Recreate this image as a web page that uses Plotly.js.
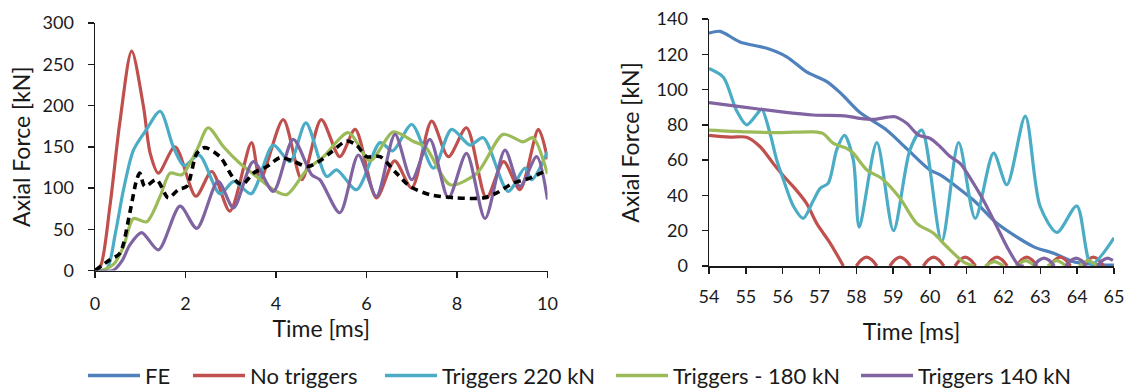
<!DOCTYPE html>
<html>
<head>
<meta charset="utf-8">
<script src="https://cdn.plot.ly/plotly-3.0.1.min.js"></script>
<style>html,body{margin:0;padding:0;background:#fff;}#chart{width:1129px;height:391px;}</style>
</head>
<body>
<div id="chart"></div>
<script>
// ---------- Left panel (0-10 ms) ----------
const tNoTrig = [0, 0.12, 0.33, 0.55, 0.81, 1.07, 1.22, 1.40, 1.77, 2.23, 2.58, 2.98, 3.46, 3.65, 4.16, 4.57, 5.0, 5.41, 5.75, 6.22, 6.62, 7.0, 7.44, 7.81, 8.21, 8.65, 9.03, 9.39, 9.8, 10.0];
const yNoTrig = [0, 5, 78, 180, 266, 199, 142, 118, 150, 90, 120, 72, 155, 110, 183, 110, 183, 138, 171, 88, 133, 100, 181, 138, 173, 88, 132, 98, 171, 135];

const t220 = [0, 0.26, 0.45, 0.63, 0.85, 1.14, 1.44, 1.73, 1.97, 2.3, 2.76, 3.07, 3.45, 3.94, 4.31, 4.66, 5.12, 5.34, 5.78, 6.3, 6.58, 7.0, 7.48, 7.88, 8.29, 8.58, 9.13, 9.5, 9.65, 10.0];
const y220 = [0, 2, 45, 98, 146, 171, 193, 150, 127, 140, 93, 108, 93, 152, 132, 179, 114, 122, 98, 155, 145, 177, 124, 171, 152, 161, 96, 124, 110, 144];

const t180 = [0, 0.2, 0.42, 0.63, 0.85, 1.14, 1.44, 1.66, 1.92, 2.25, 2.5, 2.84, 3.2, 3.57, 3.94, 4.24, 4.68, 5.05, 5.6, 6.08, 6.59, 7.05, 7.3, 7.85, 8.44, 9.02, 9.46, 9.68, 10.0];
const y180 = [0, 1, 8, 29, 63, 59, 90, 118, 116, 146, 173, 150, 130, 114, 98, 92, 122, 138, 167, 133, 168, 156, 150, 104, 118, 165, 156, 161, 117];

const t140 = [0, 0.4, 0.6, 0.77, 1.03, 1.40, 1.88, 2.25, 2.72, 3.06, 3.5, 3.94, 4.38, 4.79, 4.97, 5.41, 5.82, 6.22, 6.63, 7.0, 7.4, 7.81, 8.21, 8.62, 9.06, 9.39, 9.76, 10.0];
const y140 = [0, 0, 12, 31, 46, 25, 78, 51, 108, 76, 132, 96, 159, 116, 110, 70, 140, 90, 165, 110, 159, 88, 142, 63, 146, 102, 138, 86];

const tRef = [0, 0.33, 0.55, 0.77, 0.92, 0.99, 1.1, 1.36, 1.62, 1.84, 2.03, 2.25, 2.43, 2.76, 3.06, 3.25, 3.5, 3.8, 4.1, 4.4, 4.7, 5.0, 5.23, 5.56, 5.78, 6.0, 6.3, 6.66, 6.96, 7.4, 7.99, 8.58, 8.88, 9.24, 9.61, 10.0];
const yRef = [0, 13, 21, 70, 110, 118, 102, 110, 88, 98, 102, 142, 149, 138, 112, 104, 118, 126, 137, 132, 126, 134, 144, 157, 152, 138, 138, 118, 102, 92, 88, 88, 94, 106, 112, 122];

// ---------- Right panel (54-65 ms) ----------
const tFE_R = [54, 54.3, 54.84, 55.57, 56.11, 56.65, 57.2, 57.6, 58.1, 58.83, 59.37, 60.0, 60.28, 61.18, 61.82, 62.81, 63.36, 63.9, 64.4, 65];
const yFE_R = [132, 133, 127, 123.4, 118.6, 110, 104.5, 97.5, 87, 77, 66.5, 54.4, 51.6, 37.4, 24.2, 11, 7.2, 2.4, 1, 0.5];

const tNoTrig_R = [54, 54.57, 55.02, 55.39, 55.75, 56.11, 56.29, 56.65, 56.93, 57.29, 57.65, null,
  58.0, 58.14, 58.28, 58.42, 58.56, null, 58.91, 59.05, 59.19, 59.33, 59.47, null,
  59.82, 59.96, 60.1, 60.24, 60.38, null, 60.68, 60.82, 60.96, 61.1, 61.24, null,
  61.54, 61.68, 61.82, 61.96, 62.1, null, 62.35, 62.49, 62.63, 62.77, 62.91, null,
  63.26, 63.4, 63.54, 63.68, 63.82, null, 64.16, 64.3, 64.44, 64.58, 64.72];
const yNoTrig_R = [74, 73, 73, 67.6, 58, 49, 45, 35.5, 24, 13, 0, null,
  0, 3.5, 5, 3.5, 0, null, 0, 3.5, 5, 3.5, 0, null,
  0, 3.5, 5, 3.5, 0, null, 0, 3.5, 5, 3.5, 0, null,
  0, 3.5, 5, 3.5, 0, null, 0, 3.5, 5, 3.5, 0, null,
  0, 3.5, 5, 3.5, 0, null, 0, 3.5, 5, 3.5, 0];

const t220_R = [54, 54.39, 54.75, 55.02, 55.3, 55.43, 55.66, 55.84, 56.02, 56.29, 56.56, 56.83, 57.02, 57.24, 57.47, 57.68, 57.92, 58.08, 58.56, 59.01, 59.46, 59.78, 60.32, 60.78, 61.23, 61.73, 62.09, 62.59, 62.99, 63.45, 63.99, 64.38, 65];
const y220_R = [112, 107, 88, 80, 86, 89, 75, 60, 49, 34, 27, 37, 44, 47, 66, 74, 60, 22, 70, 20, 66, 77, 14, 70, 27, 64, 46, 85, 34, 19, 34, 1, 16];

const t180_R = [54, 55.02, 55.9, 56.83, 57.1, 57.38, 57.74, 57.92, 58.29, 58.7, 59.19, 59.64, 60.1, 60.46, 60.91, 61.2, null,
  61.5, 61.75, 62.0, null, 62.35, 62.6, 62.85, null, 63.2, 63.45, 63.7, null, 64.05, 64.3, 64.55];
const y180_R = [77, 76, 75.6, 76, 75, 69.5, 66.7, 63.9, 54.4, 49.5, 38.4, 24.2, 18.5, 10.9, 2.4, 0, null,
  0, 2.5, 0, null, 0, 3, 0, null, 0, 3, 0, null, 0, 3, 0];

const t140_R = [54, 54.84, 55.93, 56.83, 57.74, 58.1, 58.47, 59.05, 59.37, 59.69, 60.0, 60.28, 60.55, 60.82, 61.18, 61.45, 61.82, 62.09, 62.41, 62.55, null,
  62.82, 62.96, 63.1, 63.24, 63.38, null, 63.69, 63.83, 63.97, 64.11, 64.25, null, 64.55, 64.69, 64.83, 64.97];
const y140_R = [92.6, 90.3, 87.5, 85.6, 85, 83.7, 83.1, 84.6, 80.9, 74.2, 72.4, 67.6, 62, 58.2, 47, 37.4, 22.3, 11, 0.5, 0, null,
  0, 3.2, 4.5, 3.2, 0, null, 0, 3.2, 4.5, 3.2, 0, null, 0, 3.2, 4.5, 3.2];

const seriesNames = ['FE', 'No triggers', 'Triggers 220 kN', 'Triggers - 180 kN', 'Triggers 140 kN'];
const seriesColors = ['#4F81BD', '#C0504D', '#4BACC6', '#9BBB59', '#8064A2'];
const xTicksLeft = [0, 2, 4, 6, 8, 10];
const yTicksLeft = [0, 50, 100, 150, 200, 250, 300];
const xTicksRight = [54, 55, 56, 57, 58, 59, 60, 61, 62, 63, 64, 65];
const yTicksRight = [0, 20, 40, 60, 80, 100, 120, 140];

const LW = 3.2;

function tr(x, y, i, axes) {
  return {
    x: x, y: y, name: seriesNames[i], type: 'scatter', mode: 'lines',
    line: {shape: 'spline', smoothing: 0.8, width: LW, color: seriesColors[i]},
    xaxis: axes[0], yaxis: axes[1], showlegend: false, connectgaps: false,
    hoverinfo: 'skip'
  };
}

const data = [
  tr(tFE_R, yFE_R, 0, ['x2', 'y2']),
  tr(tNoTrig_R, yNoTrig_R, 1, ['x2', 'y2']),
  tr(t220_R, y220_R, 2, ['x2', 'y2']),
  tr(t180_R, y180_R, 3, ['x2', 'y2']),
  tr(t140_R, y140_R, 4, ['x2', 'y2']),
  tr(tNoTrig, yNoTrig, 1, ['x', 'y']),
  tr(t220, y220, 2, ['x', 'y']),
  tr(t180, y180, 3, ['x', 'y']),
  tr(t140, y140, 4, ['x', 'y']),
  {x: tRef, y: yRef, name: 'Reference', type: 'scatter', mode: 'lines', xaxis: 'x', yaxis: 'y',
   showlegend: false, hoverinfo: 'skip',
   line: {shape: 'spline', smoothing: 0.8, width: 3.6, color: '#000', dash: '7px,5px'}}
];

const W = 1129, H = 391;
const fontFam = 'Lato, "Open Sans", sans-serif';
const tickFont = {family: fontFam, size: 18, color: '#1a1a1a'};
const titleFont = {family: fontFam, size: 23, color: '#1a1a1a'};

// Legend (drawn as paper-anchored line swatches + text labels)
const legendLineStart = [88, 193, 385, 616, 861];
const legendLineLen = 52, legendY = 15.5 / H;
const shapes = [], annotations = [];
seriesNames.forEach((nm, i) => {
  const x0 = legendLineStart[i] / W, x1 = (legendLineStart[i] + legendLineLen) / W;
  shapes.push({type: 'line', xref: 'paper', yref: 'paper', x0: x0, x1: x1, y0: legendY, y1: legendY,
    line: {color: seriesColors[i], width: 3.4}});
  annotations.push({xref: 'paper', yref: 'paper', x: (legendLineStart[i] + legendLineLen + 3) / W, y: legendY,
    xanchor: 'left', yanchor: 'middle', showarrow: false, text: nm,
    font: {family: fontFam, size: 22, color: '#1a1a1a'}});
});

const axCommon = {
  showgrid: false, zeroline: false, showline: true, linecolor: '#1a1a1a', linewidth: 1.5,
  ticks: 'outside', ticklen: 6, tickwidth: 1.5, tickcolor: '#1a1a1a', tickfont: tickFont,
  fixedrange: true, mirror: false
};

const layout = {
  width: W, height: H,
  margin: {l: 0, r: 0, t: 0, b: 0},
  paper_bgcolor: '#fff', plot_bgcolor: '#fff',
  showlegend: false,
  shapes: shapes, annotations: annotations,
  xaxis: Object.assign({}, axCommon, {
    domain: [95 / W, 547.5 / W], range: [0, 10], tickvals: xTicksLeft, ticktext: xTicksLeft.map(String),
    anchor: 'y', ticklabelstandoff: 10,
    title: {text: 'Time [ms]', font: titleFont, standoff: 7}
  }),
  yaxis: Object.assign({}, axCommon, {
    domain: [(H - 270.5) / H, (H - 23) / H], range: [0, 300], tickvals: yTicksLeft, ticktext: yTicksLeft.map(String),
    anchor: 'x', ticklabelstandoff: 10,
    title: {text: 'Axial Force [kN]', font: titleFont, standoff: 5}
  }),
  xaxis2: Object.assign({}, axCommon, {
    domain: [709 / W, 1114 / W], range: [54, 65], tickvals: xTicksRight, ticktext: xTicksRight.map(String),
    anchor: 'y2', ticklabelstandoff: 8,
    title: {text: 'Time [ms]', font: titleFont, standoff: 18}
  }),
  yaxis2: Object.assign({}, axCommon, {
    domain: [(H - 266) / H, (H - 19) / H], range: [0, 140], tickvals: yTicksRight, ticktext: yTicksRight.map(String),
    anchor: 'x2', ticklabelstandoff: 10,
    title: {text: 'Axial Force [kN]', font: titleFont, standoff: 10}
  })
};

Plotly.newPlot('chart', data, layout, {displayModeBar: false, staticPlot: true});
</script>
</body>
</html>
